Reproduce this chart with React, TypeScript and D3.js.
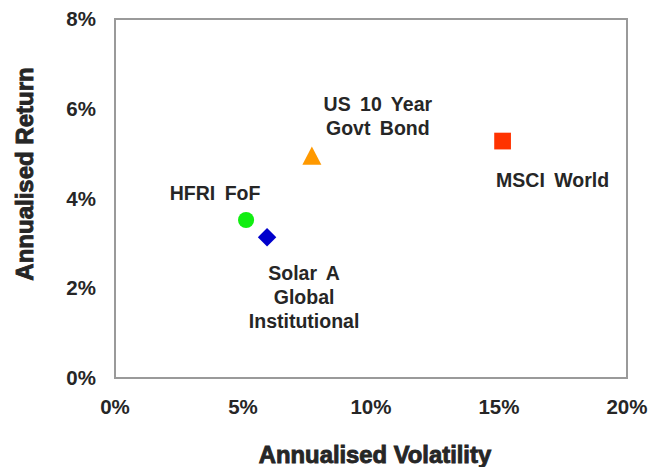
import React from "react";
import * as d3 from "d3";

const names = ["US 10 Year\nGovt Bond", "HFRI FoF", "Solar A\nGlobal\nInstitutional", "MSCI World"];
const volatility = [7.69, 5.12, 5.94, 15.14];
const returns = [4.95, 3.52, 3.135, 5.28];
const colors = ["#ff9900", "#11ee11", "#0000cc", "#ff3300"];
const xTicks = [0, 5, 10, 15, 20];
const yTicks = [0, 2, 4, 6, 8];

// label offsets relative to mark (dx, dy of first line baseline)
const labelOffsets: [number, number][] = [
  [66, -45],
  [-31, -20],
  [37, 43],
  [50, 46],
];

function markPath(i: number): { d: string; rot: number } {
  if (i === 0) {
    // isosceles triangle ~19 wide, 18 tall
    const p = d3.path();
    p.moveTo(0, -9.3);
    p.lineTo(9.5, 9);
    p.lineTo(-9.5, 9);
    p.closePath();
    return { d: p.toString(), rot: 0 };
  }
  if (i === 1) return { d: d3.symbol().type(d3.symbolCircle).size(205)() || "", rot: 0 };
  if (i === 2) return { d: d3.symbol().type(d3.symbolSquare).size(170)() || "", rot: 45 };
  return { d: d3.symbol().type(d3.symbolSquare).size(280)() || "", rot: 0 };
}

export default function App() {
  const W = 650, H = 467;
  const L = 115, R = 627, T = 19, B = 378;
  const x = d3.scaleLinear().domain([0, 20]).range([L, R]);
  const y = d3.scaleLinear().domain([0, 8]).range([B, T]);
  const font = "'Liberation Sans', Arial, sans-serif";
  const txt = "#262626";
  return (
    <svg width={W} height={H} style={{ position: "absolute", left: 0, top: 0 }}>
      <rect x={0} y={0} width={W} height={H} fill="#fff" />
      <rect x={L} y={T} width={R - L} height={B - T} fill="none" stroke="#9a9a9a" strokeWidth={2} />
      {yTicks.map((t) => (
        <text key={"y" + t} x={96} y={y(t) + 7} textAnchor="end" fontFamily={font} fontWeight="bold" fontSize={20.5} fill={txt}>
          {t}%
        </text>
      ))}
      {xTicks.map((t) => (
        <text key={"x" + t} x={x(t)} y={414} textAnchor="middle" fontFamily={font} fontWeight="bold" fontSize={20.5} fill={txt}>
          {t}%
        </text>
      ))}
      <text x={375} y={463} textAnchor="middle" fontFamily={font} fontWeight="bold" fontSize={23.8} fill={txt} stroke={txt} strokeWidth={0.9}>
        Annualised Volatility
      </text>
      <text transform={`translate(33,174) rotate(-90)`} textAnchor="middle" fontFamily={font} fontWeight="bold" fontSize={24} fill={txt} stroke={txt} strokeWidth={0.9}>
        Annualised Return
      </text>
      {names.map((n, i) => {
        const px = x(volatility[i]);
        const py = y(returns[i]);
        const m = markPath(i);
        const lines = n.split("\n");
        const [dx, dy] = labelOffsets[i];
        return (
          <g key={i}>
            <path d={m.d} transform={`translate(${px},${py}) rotate(${m.rot})`} fill={colors[i]} />
            {lines.map((ln, j) => (
              <text key={j} x={px + dx} y={py + dy + j * 24} textAnchor="middle" fontFamily={font} fontWeight="bold" fontSize={19.5} wordSpacing={4} fill={txt}>
                {ln}
              </text>
            ))}
          </g>
        );
      })}
    </svg>
  );
}
